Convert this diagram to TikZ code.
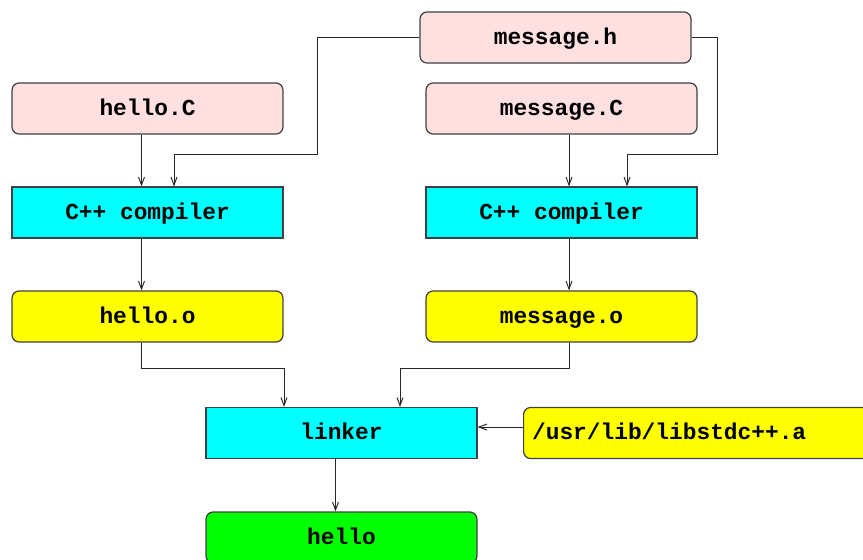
\documentclass[tikz,border=0pt]{standalone}
\usepackage{fontspec}
\setmonofont{Liberation Mono}
\usetikzlibrary{calc}
\usetikzlibrary{arrows.meta}

\definecolor{srcpink}{RGB}{255,224,224}
\definecolor{toolcyan}{RGB}{0,255,255}
\definecolor{objyellow}{RGB}{255,255,0}
\definecolor{exegreen}{RGB}{0,255,0}

\begin{document}
\begin{tikzpicture}[x=0.02cm, y=-0.02cm,
    box/.style={draw=black!75, line width=0.7pt, minimum width=5.42cm, minimum height=1.02cm,
        text height=1.75ex, text depth=0pt,
        font=\ttfamily\bfseries\fontsize{13pt}{15pt}\selectfont},
    file/.style={box, rounded corners=0.14cm},
    tool/.style={box, fill=toolcyan},
    arr/.style={draw=black!85, line width=0.55pt, -{Straight Barb[length=0.16cm, width=0.12cm]}}]
    \useasboundingbox (0,0) rectangle (863,559);
    \clip (0,0) rectangle (863,559);

    \node[file, fill=srcpink] (msgH) at (555.5, 37.5) {message.h};
    \node[file, fill=srcpink] (helloC) at (147.5, 108.5) {hello.C};
    \node[file, fill=srcpink] (msgC) at (561.5, 108.5) {message.C};
    \node[tool] (ccL) at (147.5, 212.5) {C++ compiler};
    \node[tool] (ccR) at (561.5, 212.5) {C++ compiler};
    \node[file, fill=objyellow] (helloO) at (147.5, 316.5) {hello.o};
    \node[file, fill=objyellow] (msgO) at (561.5, 316.5) {message.o};
    \node[tool] (linker) at (341.5, 433) {linker};
    \node[file, fill=objyellow, anchor=west, minimum width=7.6cm, text width=7.26cm, align=left] (lib) at (523, 433) {/usr/lib/libstdc++.a};
    \node[file, fill=exegreen] (hello) at (341.5, 537.5) {hello};

    \coordinate (hL) at (174, 154);
    \coordinate (hR) at (627, 154);
    \coordinate (lL) at (284, 368);
    \coordinate (lR) at (400, 368);

    \draw[arr] ([xshift=-0.12cm]helloC.south) -- ([xshift=-0.12cm]ccL.north);
    \draw[arr] ([xshift=0.15cm]msgC.south) -- ([xshift=0.15cm]ccR.north);
    \draw[arr] (msgH.west) -| (317, 154) -- (hL) -- (hL |- ccL.north);
    \draw[arr] (msgH.east) -| (717, 154) -- (hR) -- (hR |- ccR.north);
    \draw[arr] ([xshift=-0.12cm]ccL.south) -- ([xshift=-0.12cm]helloO.north);
    \draw[arr] ([xshift=0.15cm]ccR.south) -- ([xshift=0.15cm]msgO.north);
    \draw[arr] ([xshift=-0.12cm]helloO.south) |- (lL) -- (lL |- linker.north);
    \draw[arr] ([xshift=0.15cm]msgO.south) |- (lR) -- (lR |- linker.north);
    \draw[arr] ([yshift=0.12cm]lib.west) -- ([yshift=0.12cm]linker.east);
    \draw[arr] ([xshift=-0.12cm]linker.south) -- ([xshift=-0.12cm]hello.north);
\end{tikzpicture}
\end{document}
